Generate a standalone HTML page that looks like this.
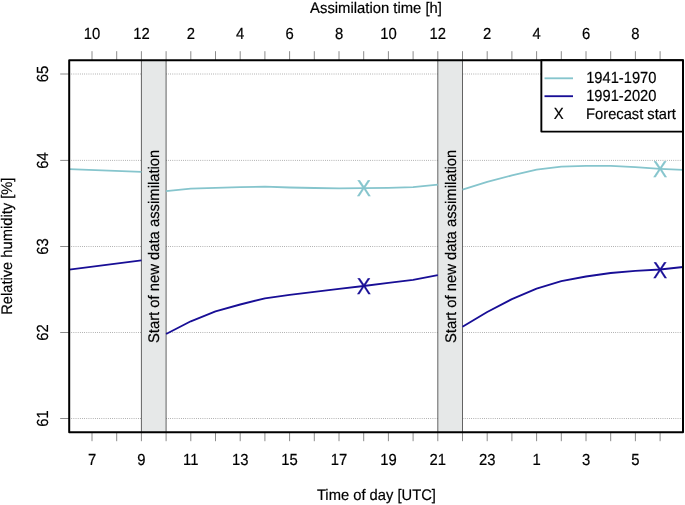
<!DOCTYPE html><html><head><meta charset="utf-8"><title>Chart</title><style>html,body{margin:0;padding:0;background:#fff}</style></head><body><svg width="685" height="505" viewBox="0 0 685 505" style="display:block" text-rendering="geometricPrecision" font-family="Liberation Sans, Arial, Helvetica, sans-serif">
<rect width="685" height="505" fill="#fff"/>
<line x1="69.2" y1="418.5" x2="683.0" y2="418.5" stroke="#787878" stroke-width="0.75" stroke-dasharray="0.75,1.4"/>
<line x1="60.2" y1="418.5" x2="69.2" y2="418.5" stroke="#666" stroke-width="0.75"/>
<line x1="69.2" y1="332.5" x2="683.0" y2="332.5" stroke="#787878" stroke-width="0.75" stroke-dasharray="0.75,1.4"/>
<line x1="60.2" y1="332.5" x2="69.2" y2="332.5" stroke="#666" stroke-width="0.75"/>
<line x1="69.2" y1="246.5" x2="683.0" y2="246.5" stroke="#787878" stroke-width="0.75" stroke-dasharray="0.75,1.4"/>
<line x1="60.2" y1="246.5" x2="69.2" y2="246.5" stroke="#666" stroke-width="0.75"/>
<line x1="69.2" y1="160.4" x2="683.0" y2="160.4" stroke="#787878" stroke-width="0.75" stroke-dasharray="0.75,1.4"/>
<line x1="60.2" y1="160.4" x2="69.2" y2="160.4" stroke="#666" stroke-width="0.75"/>
<line x1="69.2" y1="74.0" x2="683.0" y2="74.0" stroke="#787878" stroke-width="0.75" stroke-dasharray="0.75,1.4"/>
<line x1="60.2" y1="74.0" x2="69.2" y2="74.0" stroke="#666" stroke-width="0.75"/>
<rect x="141.4" y="60.2" width="24.7" height="372.0" fill="#e6e8e8"/>
<line x1="141.4" y1="60.2" x2="141.4" y2="432.2" stroke="#333" stroke-width="0.75"/>
<line x1="166.1" y1="60.2" x2="166.1" y2="432.2" stroke="#333" stroke-width="0.75"/>
<rect x="437.8" y="60.2" width="24.7" height="372.0" fill="#e6e8e8"/>
<line x1="437.8" y1="60.2" x2="437.8" y2="432.2" stroke="#333" stroke-width="0.75"/>
<line x1="462.5" y1="60.2" x2="462.5" y2="432.2" stroke="#333" stroke-width="0.75"/>
<line x1="92.0" y1="432.2" x2="92.0" y2="441.2" stroke="#666" stroke-width="0.75"/>
<line x1="92.0" y1="51.2" x2="92.0" y2="60.2" stroke="#666" stroke-width="0.75"/>
<line x1="116.7" y1="432.2" x2="116.7" y2="441.2" stroke="#666" stroke-width="0.75"/>
<line x1="116.7" y1="51.2" x2="116.7" y2="60.2" stroke="#666" stroke-width="0.75"/>
<line x1="141.4" y1="432.2" x2="141.4" y2="441.2" stroke="#666" stroke-width="0.75"/>
<line x1="141.4" y1="51.2" x2="141.4" y2="60.2" stroke="#666" stroke-width="0.75"/>
<line x1="166.1" y1="432.2" x2="166.1" y2="441.2" stroke="#666" stroke-width="0.75"/>
<line x1="166.1" y1="51.2" x2="166.1" y2="60.2" stroke="#666" stroke-width="0.75"/>
<line x1="190.8" y1="432.2" x2="190.8" y2="441.2" stroke="#666" stroke-width="0.75"/>
<line x1="190.8" y1="51.2" x2="190.8" y2="60.2" stroke="#666" stroke-width="0.75"/>
<line x1="215.5" y1="432.2" x2="215.5" y2="441.2" stroke="#666" stroke-width="0.75"/>
<line x1="215.5" y1="51.2" x2="215.5" y2="60.2" stroke="#666" stroke-width="0.75"/>
<line x1="240.2" y1="432.2" x2="240.2" y2="441.2" stroke="#666" stroke-width="0.75"/>
<line x1="240.2" y1="51.2" x2="240.2" y2="60.2" stroke="#666" stroke-width="0.75"/>
<line x1="264.9" y1="432.2" x2="264.9" y2="441.2" stroke="#666" stroke-width="0.75"/>
<line x1="264.9" y1="51.2" x2="264.9" y2="60.2" stroke="#666" stroke-width="0.75"/>
<line x1="289.6" y1="432.2" x2="289.6" y2="441.2" stroke="#666" stroke-width="0.75"/>
<line x1="289.6" y1="51.2" x2="289.6" y2="60.2" stroke="#666" stroke-width="0.75"/>
<line x1="314.3" y1="432.2" x2="314.3" y2="441.2" stroke="#666" stroke-width="0.75"/>
<line x1="314.3" y1="51.2" x2="314.3" y2="60.2" stroke="#666" stroke-width="0.75"/>
<line x1="339.0" y1="432.2" x2="339.0" y2="441.2" stroke="#666" stroke-width="0.75"/>
<line x1="339.0" y1="51.2" x2="339.0" y2="60.2" stroke="#666" stroke-width="0.75"/>
<line x1="363.7" y1="432.2" x2="363.7" y2="441.2" stroke="#666" stroke-width="0.75"/>
<line x1="363.7" y1="51.2" x2="363.7" y2="60.2" stroke="#666" stroke-width="0.75"/>
<line x1="388.4" y1="432.2" x2="388.4" y2="441.2" stroke="#666" stroke-width="0.75"/>
<line x1="388.4" y1="51.2" x2="388.4" y2="60.2" stroke="#666" stroke-width="0.75"/>
<line x1="413.1" y1="432.2" x2="413.1" y2="441.2" stroke="#666" stroke-width="0.75"/>
<line x1="413.1" y1="51.2" x2="413.1" y2="60.2" stroke="#666" stroke-width="0.75"/>
<line x1="437.8" y1="432.2" x2="437.8" y2="441.2" stroke="#666" stroke-width="0.75"/>
<line x1="437.8" y1="51.2" x2="437.8" y2="60.2" stroke="#666" stroke-width="0.75"/>
<line x1="462.5" y1="432.2" x2="462.5" y2="441.2" stroke="#666" stroke-width="0.75"/>
<line x1="462.5" y1="51.2" x2="462.5" y2="60.2" stroke="#666" stroke-width="0.75"/>
<line x1="487.2" y1="432.2" x2="487.2" y2="441.2" stroke="#666" stroke-width="0.75"/>
<line x1="487.2" y1="51.2" x2="487.2" y2="60.2" stroke="#666" stroke-width="0.75"/>
<line x1="511.9" y1="432.2" x2="511.9" y2="441.2" stroke="#666" stroke-width="0.75"/>
<line x1="511.9" y1="51.2" x2="511.9" y2="60.2" stroke="#666" stroke-width="0.75"/>
<line x1="536.6" y1="432.2" x2="536.6" y2="441.2" stroke="#666" stroke-width="0.75"/>
<line x1="536.6" y1="51.2" x2="536.6" y2="60.2" stroke="#666" stroke-width="0.75"/>
<line x1="561.3" y1="432.2" x2="561.3" y2="441.2" stroke="#666" stroke-width="0.75"/>
<line x1="561.3" y1="51.2" x2="561.3" y2="60.2" stroke="#666" stroke-width="0.75"/>
<line x1="586.0" y1="432.2" x2="586.0" y2="441.2" stroke="#666" stroke-width="0.75"/>
<line x1="586.0" y1="51.2" x2="586.0" y2="60.2" stroke="#666" stroke-width="0.75"/>
<line x1="610.7" y1="432.2" x2="610.7" y2="441.2" stroke="#666" stroke-width="0.75"/>
<line x1="610.7" y1="51.2" x2="610.7" y2="60.2" stroke="#666" stroke-width="0.75"/>
<line x1="635.4" y1="432.2" x2="635.4" y2="441.2" stroke="#666" stroke-width="0.75"/>
<line x1="635.4" y1="51.2" x2="635.4" y2="60.2" stroke="#666" stroke-width="0.75"/>
<line x1="660.1" y1="432.2" x2="660.1" y2="441.2" stroke="#666" stroke-width="0.75"/>
<line x1="660.1" y1="51.2" x2="660.1" y2="60.2" stroke="#666" stroke-width="0.75"/>
<polyline fill="none" stroke="#86c5cd" stroke-width="1.85" stroke-linejoin="round" points="69.2,169.2 141.4,171.8"/>
<polyline fill="none" stroke="#86c5cd" stroke-width="1.85" stroke-linejoin="round" points="166.1,191.1 190.8,188.7 215.5,187.8 240.2,187.2 264.9,186.7 289.6,187.5 314.3,188.0 339.0,188.3 363.7,188.1 388.4,187.8 413.1,187.2 437.8,184.7"/>
<polyline fill="none" stroke="#86c5cd" stroke-width="1.85" stroke-linejoin="round" points="462.5,189.6 487.2,181.9 511.9,175.4 536.6,169.6 561.3,166.7 586.0,165.9 610.7,165.9 635.4,167.2 660.1,168.8 683.0,169.8"/>
<polyline fill="none" stroke="#180e96" stroke-width="1.85" stroke-linejoin="round" points="69.2,269.7 141.4,260.3"/>
<polyline fill="none" stroke="#180e96" stroke-width="1.85" stroke-linejoin="round" points="166.1,334.0 190.8,321.3 215.5,311.4 240.2,304.5 264.9,298.3 289.6,294.8 314.3,291.9 339.0,288.8 363.7,286.0 388.4,282.9 413.1,279.8 437.8,275.1"/>
<polyline fill="none" stroke="#180e96" stroke-width="1.85" stroke-linejoin="round" points="462.5,326.7 487.2,312.0 511.9,299.1 536.6,288.6 561.3,281.2 586.0,276.5 610.7,273.0 635.4,270.9 660.1,269.5 683.0,267.0"/>
<text transform="translate(363.90,196.30) scale(0.930,1)" text-anchor="middle" font-size="22.9" fill="#86c5cd" stroke="#86c5cd" stroke-width="0.25">X</text>
<text transform="translate(660.10,176.85) scale(0.930,1)" text-anchor="middle" font-size="22.9" fill="#86c5cd" stroke="#86c5cd" stroke-width="0.25">X</text>
<text transform="translate(363.90,294.00) scale(0.930,1)" text-anchor="middle" font-size="22.9" fill="#180e96" stroke="#180e96" stroke-width="0.25">X</text>
<text transform="translate(660.10,277.50) scale(0.930,1)" text-anchor="middle" font-size="22.9" fill="#180e96" stroke="#180e96" stroke-width="0.25">X</text>
<rect x="69.2" y="60.2" width="613.8" height="372.0" fill="none" stroke="#000" stroke-width="2" stroke-linejoin="round"/>
<rect x="541.35" y="60.2" width="141.6" height="71.4" fill="#fff" stroke="#000" stroke-width="1.9" stroke-linejoin="round"/>
<line x1="544.5" y1="78.3" x2="573" y2="78.3" stroke="#86c5cd" stroke-width="1.85"/>
<line x1="544.5" y1="96.2" x2="573" y2="96.2" stroke="#180e96" stroke-width="1.85"/>
<text transform="translate(558.60,119.40) scale(0.921,1)" text-anchor="middle" font-size="16.1" fill="#000" stroke="#000" stroke-width="0.2">X</text>
<text transform="translate(586.20,83.20) scale(0.912,1)" text-anchor="start" font-size="16.1" fill="#000" stroke="#000" stroke-width="0.2">1941-1970</text>
<text transform="translate(586.20,101.20) scale(0.912,1)" text-anchor="start" font-size="16.1" fill="#000" stroke="#000" stroke-width="0.2">1991-2020</text>
<text transform="translate(586.10,119.30) scale(0.960,1)" text-anchor="start" font-size="15.3" fill="#000" stroke="#000" stroke-width="0.2">Forecast start</text>
<text transform="translate(92.00,464.70) scale(0.921,1)" text-anchor="middle" font-size="16.1" fill="#000" stroke="#000" stroke-width="0.2">7</text>
<text transform="translate(141.40,464.70) scale(0.921,1)" text-anchor="middle" font-size="16.1" fill="#000" stroke="#000" stroke-width="0.2">9</text>
<text transform="translate(190.80,464.70) scale(0.921,1)" text-anchor="middle" font-size="16.1" fill="#000" stroke="#000" stroke-width="0.2">11</text>
<text transform="translate(240.20,464.70) scale(0.921,1)" text-anchor="middle" font-size="16.1" fill="#000" stroke="#000" stroke-width="0.2">13</text>
<text transform="translate(289.60,464.70) scale(0.921,1)" text-anchor="middle" font-size="16.1" fill="#000" stroke="#000" stroke-width="0.2">15</text>
<text transform="translate(339.00,464.70) scale(0.921,1)" text-anchor="middle" font-size="16.1" fill="#000" stroke="#000" stroke-width="0.2">17</text>
<text transform="translate(388.40,464.70) scale(0.921,1)" text-anchor="middle" font-size="16.1" fill="#000" stroke="#000" stroke-width="0.2">19</text>
<text transform="translate(437.80,464.70) scale(0.921,1)" text-anchor="middle" font-size="16.1" fill="#000" stroke="#000" stroke-width="0.2">21</text>
<text transform="translate(487.20,464.70) scale(0.921,1)" text-anchor="middle" font-size="16.1" fill="#000" stroke="#000" stroke-width="0.2">23</text>
<text transform="translate(536.60,464.70) scale(0.921,1)" text-anchor="middle" font-size="16.1" fill="#000" stroke="#000" stroke-width="0.2">1</text>
<text transform="translate(586.00,464.70) scale(0.921,1)" text-anchor="middle" font-size="16.1" fill="#000" stroke="#000" stroke-width="0.2">3</text>
<text transform="translate(635.40,464.70) scale(0.921,1)" text-anchor="middle" font-size="16.1" fill="#000" stroke="#000" stroke-width="0.2">5</text>
<text transform="translate(92.00,38.60) scale(0.921,1)" text-anchor="middle" font-size="16.1" fill="#000" stroke="#000" stroke-width="0.2">10</text>
<text transform="translate(141.40,38.60) scale(0.921,1)" text-anchor="middle" font-size="16.1" fill="#000" stroke="#000" stroke-width="0.2">12</text>
<text transform="translate(190.80,38.60) scale(0.921,1)" text-anchor="middle" font-size="16.1" fill="#000" stroke="#000" stroke-width="0.2">2</text>
<text transform="translate(240.20,38.60) scale(0.921,1)" text-anchor="middle" font-size="16.1" fill="#000" stroke="#000" stroke-width="0.2">4</text>
<text transform="translate(289.60,38.60) scale(0.921,1)" text-anchor="middle" font-size="16.1" fill="#000" stroke="#000" stroke-width="0.2">6</text>
<text transform="translate(339.00,38.60) scale(0.921,1)" text-anchor="middle" font-size="16.1" fill="#000" stroke="#000" stroke-width="0.2">8</text>
<text transform="translate(388.40,38.60) scale(0.921,1)" text-anchor="middle" font-size="16.1" fill="#000" stroke="#000" stroke-width="0.2">10</text>
<text transform="translate(437.80,38.60) scale(0.921,1)" text-anchor="middle" font-size="16.1" fill="#000" stroke="#000" stroke-width="0.2">12</text>
<text transform="translate(487.20,38.60) scale(0.921,1)" text-anchor="middle" font-size="16.1" fill="#000" stroke="#000" stroke-width="0.2">2</text>
<text transform="translate(536.60,38.60) scale(0.921,1)" text-anchor="middle" font-size="16.1" fill="#000" stroke="#000" stroke-width="0.2">4</text>
<text transform="translate(586.00,38.60) scale(0.921,1)" text-anchor="middle" font-size="16.1" fill="#000" stroke="#000" stroke-width="0.2">6</text>
<text transform="translate(635.40,38.60) scale(0.921,1)" text-anchor="middle" font-size="16.1" fill="#000" stroke="#000" stroke-width="0.2">8</text>
<text transform="translate(48.30,418.50) rotate(-90) scale(0.921,1)" text-anchor="middle" font-size="16.1" fill="#000" stroke="#000" stroke-width="0.2">61</text>
<text transform="translate(48.30,332.50) rotate(-90) scale(0.921,1)" text-anchor="middle" font-size="16.1" fill="#000" stroke="#000" stroke-width="0.2">62</text>
<text transform="translate(48.30,246.50) rotate(-90) scale(0.921,1)" text-anchor="middle" font-size="16.1" fill="#000" stroke="#000" stroke-width="0.2">63</text>
<text transform="translate(48.30,160.40) rotate(-90) scale(0.921,1)" text-anchor="middle" font-size="16.1" fill="#000" stroke="#000" stroke-width="0.2">64</text>
<text transform="translate(48.30,74.00) rotate(-90) scale(0.921,1)" text-anchor="middle" font-size="16.1" fill="#000" stroke="#000" stroke-width="0.2">65</text>
<text transform="translate(376.00,12.50) scale(0.969,1)" text-anchor="middle" font-size="15.3" fill="#000" stroke="#000" stroke-width="0.2">Assimilation time [h]</text>
<text transform="translate(376.40,500.00) scale(0.963,1)" text-anchor="middle" font-size="15.3" fill="#000" stroke="#000" stroke-width="0.2">Time of day [UTC]</text>
<text transform="translate(11.90,246.20) rotate(-90) scale(0.961,1)" text-anchor="middle" font-size="15.3" fill="#000" stroke="#000" stroke-width="0.2">Relative humidity [%]</text>
<text transform="translate(159.45,343.10) rotate(-90) scale(0.968,1)" text-anchor="start" font-size="15.3" fill="#000" stroke="#000" stroke-width="0.2">Start of new data assimilation</text>
<text transform="translate(455.85,343.10) rotate(-90) scale(0.968,1)" text-anchor="start" font-size="15.3" fill="#000" stroke="#000" stroke-width="0.2">Start of new data assimilation</text>
</svg></body></html>
